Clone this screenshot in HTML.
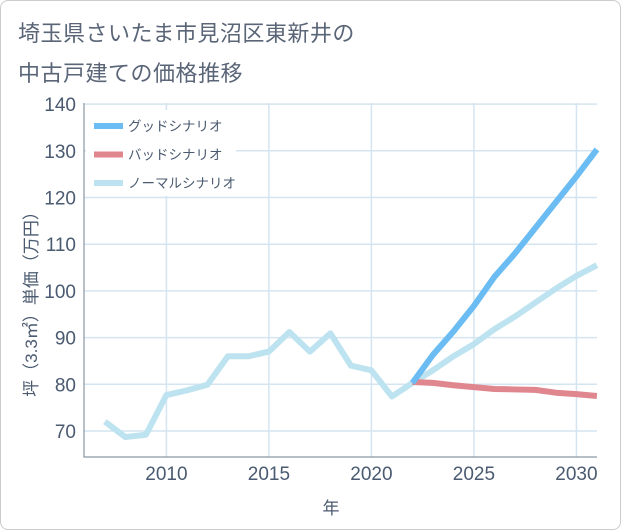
<!DOCTYPE html>
<html><head><meta charset="utf-8"><style>
body{margin:0;background:#fff;}
#wrap{position:relative;width:621px;height:530px;overflow:hidden;background:#fff;font-family:"Liberation Sans","Noto Sans CJK JP",sans-serif;}
#frame{position:absolute;left:0;top:0;width:619px;height:528px;border:1px solid #ccc;border-radius:8px;}
.title{position:absolute;left:18px;font-size:22px;color:#5a6577;letter-spacing:0.5px;}
</style></head><body>
<div id="wrap">
<div id="frame"></div>
<div class="title" style="top:16px">埼玉県さいたま市見沼区東新井の</div>
<div class="title" style="top:56px">中古戸建ての価格推移</div>
<svg id="chart" width="621" height="530" style="position:absolute;left:0;top:0"></svg>
</div>
<script>
const years=[2007,2008,2009,2010,2011,2012,2013,2014,2015,2016,2017,2018,2019,2020,2021,2022];
const hist=[72,68.7,69.2,77.7,78.7,79.9,86,86,87,91.2,87,90.9,84,83,77.4,80.3];
const fYears=[2022,2023,2024,2025,2026,2027,2028,2029,2030,2031];
const good=[80.3,86.3,91.3,96.8,103,108,113.5,119,124.5,130.3];
const bad=[80.5,80.3,79.8,79.4,79,78.9,78.8,78.2,77.9,77.5];
const normal=[80.3,83,86,88.6,91.8,94.5,97.5,100.5,103.2,105.5];
const yTicks=[70,80,90,100,110,120,130,140];
const xTicks=[2010,2015,2020,2025,2030];
const legendLabels=["グッドシナリオ","バッドシナリオ","ノーマルシナリオ"];

const L=84,R=597,T=103,B=457;
const x=v=>166.4+(v-2010)*20.5;
const y=v=>431-(v-70)*4.67;
const NS="http://www.w3.org/2000/svg";
const svg=document.getElementById('chart');
function mk(t,a){const e=document.createElementNS(NS,t);for(const k in a)e.setAttribute(k,a[k]);svg.appendChild(e);return e;}

yTicks.forEach(v=>{
 const g=mk('line',{x1:L,x2:R,y1:y(v),y2:y(v),stroke:'#d4e4f0','stroke-width':1.5});
 
 
 const t=mk('text',{x:L-8,y:y(v)+7,'text-anchor':'end','font-size':19,fill:'#4a5a70'});
 t.textContent=v;
 
 
});
xTicks.forEach(v=>{
 const g=mk('line',{x1:x(v),x2:x(v),y1:T,y2:B,stroke:'#d4e4f0','stroke-width':1.5});
 
 
 const t=mk('text',{x:x(v),y:B+23,'text-anchor':'middle','font-size':19,fill:'#4a5a70'});
 t.textContent=v;
 
 
});
const ax=mk('path',{d:`M${L},${T}V${B}H${R}`,fill:'none',stroke:'#8a96a4','stroke-width':1.2});



function line(xs,ys,color,name){
 const p=mk('polyline',{points:xs.map((v,i)=>x(v)+','+y(ys[i])).join(' '),fill:'none',stroke:color,'stroke-width':6,'stroke-linejoin':'round'});
 
 
}
line(years,hist,'#bde3f0','historical-line');
line(fYears,normal,'#bde3f0','normal-scenario-line');
line(fYears,bad,'#e0868e','bad-scenario-line');
line(fYears,good,'#6bbcf2','good-scenario-line');

const lb=mk('rect',{x:86,y:110,width:150,height:86,fill:'#fff'});


const lc=['#6bbcf2','#e0868e','#bde3f0'];
legendLabels.forEach((s,i)=>{
 const yy=126+i*28.5;
 const r=mk('line',{x1:94,x2:123,y1:yy,y2:yy,stroke:lc[i],'stroke-width':6});
 
 
 const t=mk('text',{x:128,y:yy+5,'font-size':13.5,fill:'#4a5a70'});
 t.textContent=s;
 
 
});
const xt=mk('text',{x:331,y:514,'text-anchor':'middle','font-size':17,fill:'#4a5a70'});
xt.textContent='年';


const yt=mk('text',{x:0,y:0,'text-anchor':'middle','font-size':17,fill:'#4a5a70',transform:'translate(37,300) rotate(-90)'});
yt.textContent='坪（3.3㎡）単価（万円）';


</script>
</body></html>
